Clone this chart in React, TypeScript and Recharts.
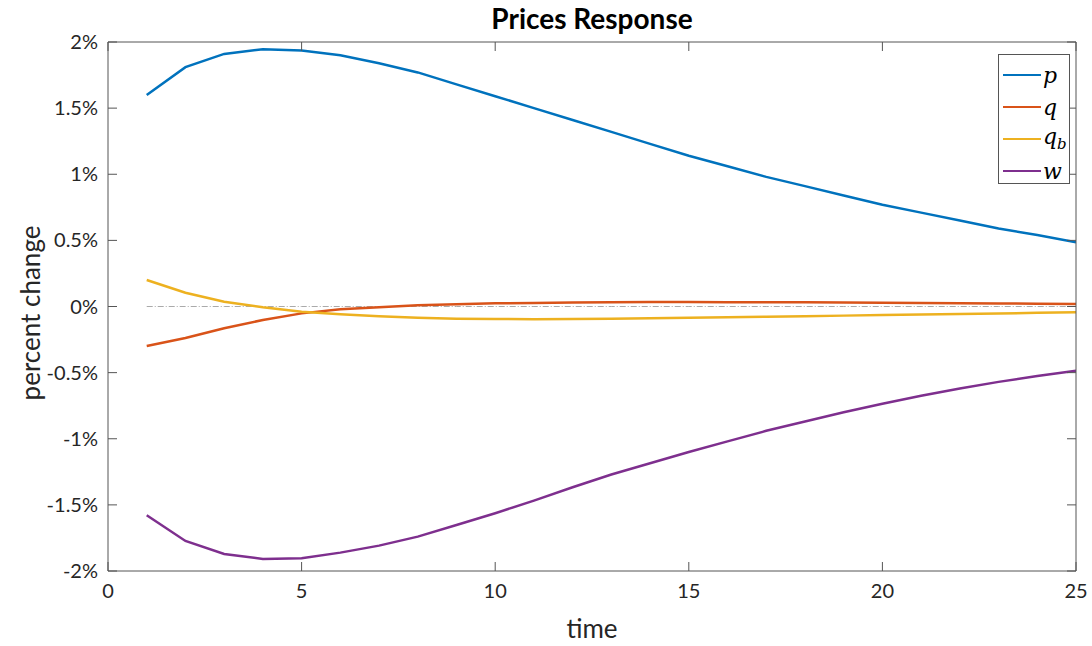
import { LineChart, Line, XAxis, YAxis } from "recharts";

const time = [1, 2, 3, 4, 5, 6, 7, 8, 9, 10, 11, 12, 13, 14, 15, 16, 17, 18, 19, 20, 21, 22, 23, 24, 25];

const pValues = [
  1.6, 1.81, 1.91, 1.945, 1.935, 1.9, 1.84, 1.77, 1.68, 1.59, 1.5, 1.41, 1.32,
  1.23, 1.14, 1.06, 0.98, 0.91, 0.84, 0.77, 0.71, 0.65, 0.59, 0.54, 0.485,
];
const qValues = [
  -0.299, -0.238, -0.165, -0.102, -0.052, -0.021, -0.006, 0.009, 0.017, 0.024,
  0.027, 0.03, 0.032, 0.034, 0.034, 0.033, 0.033, 0.032, 0.03, 0.028, 0.026,
  0.025, 0.023, 0.021, 0.019,
];
const qbValues = [
  0.2, 0.104, 0.036, -0.006, -0.039, -0.059, -0.074, -0.085, -0.092, -0.095,
  -0.096, -0.095, -0.093, -0.089, -0.085, -0.081, -0.077, -0.073, -0.069,
  -0.065, -0.061, -0.057, -0.053, -0.048, -0.044,
];
const wValues = [
  -1.578, -1.773, -1.871, -1.909, -1.904, -1.861, -1.808, -1.74, -1.652,
  -1.563, -1.468, -1.367, -1.27, -1.185, -1.1, -1.02, -0.94, -0.87, -0.8,
  -0.735, -0.675, -0.62, -0.57, -0.525, -0.485,
];

const xTicks = [0, 5, 10, 15, 20, 25];
const yTicks = [-2, -1.5, -1, -0.5, 0, 0.5, 1, 1.5, 2];

const series = [
  { key: "p", label: "p", sub: "", color: "#0072BD" },
  { key: "q", label: "q", sub: "", color: "#D95319" },
  { key: "qb", label: "q", sub: "b", color: "#EDB120" },
  { key: "w", label: "w", sub: "", color: "#7E2F8E" },
];

const data = time.map((t, i) => ({
  time: t,
  p: pValues[i],
  q: qValues[i],
  qb: qbValues[i],
  w: wValues[i],
  zero: 0,
}));

const font = "Lato, 'Open Sans', sans-serif";
const axisColor = "#555";
const tickStyle = { fontSize: 20, fill: "#262626", fontFamily: font };
const noLabel = () => <g />;

export default function App() {
  return (
    <div style={{ position: "absolute", left: 0, top: 0, width: 1092, height: 646, background: "#fff" }}>
      <LineChart
        width={1092}
        height={646}
        data={data}
        margin={{ top: 40, right: 14, bottom: 45, left: 0 }}
      >
        <XAxis
          dataKey="time"
          type="number"
          domain={[0, 25]}
          ticks={xTicks}
          height={30}
          tickSize={-9}
          tickMargin={22}
          stroke={axisColor}
          tick={tickStyle}
          allowDataOverflow
        />
        <XAxis
          xAxisId="top"
          orientation="top"
          dataKey="time"
          type="number"
          domain={[0, 25]}
          ticks={xTicks}
          height={2}
          tickSize={-9}
          tick={noLabel}
          stroke={axisColor}
          allowDataOverflow
        />
        <YAxis
          type="number"
          domain={[-2, 2]}
          ticks={yTicks}
          width={108}
          tickSize={-9}
          tickMargin={19}
          stroke={axisColor}
          tick={tickStyle}
          tickFormatter={(v) => `${v}%`}
          allowDataOverflow
        />
        <YAxis
          yAxisId="right"
          orientation="right"
          type="number"
          domain={[-2, 2]}
          ticks={yTicks}
          width={2}
          tickSize={-9}
          tick={noLabel}
          stroke={axisColor}
          allowDataOverflow
        />
        {/* zero reference line, tied to the top/right axes so the box frame gets drawn */}
        <Line
          xAxisId="top"
          yAxisId="right"
          type="linear"
          dataKey="zero"
          stroke="#aaaaaa"
          strokeWidth={1}
          strokeDasharray="6 2 1 2"
          dot={false}
          activeDot={false}
          isAnimationActive={false}
        />
        {series.map((s) => (
          <Line
            key={s.key}
            type="linear"
            dataKey={s.key}
            stroke={s.color}
            strokeWidth={2.5}
            dot={false}
            activeDot={false}
            isAnimationActive={false}
          />
        ))}
      </LineChart>

      <div
        style={{
          position: "absolute",
          left: 108,
          width: 968,
          top: 1,
          textAlign: "center",
          fontFamily: font,
          fontWeight: 700,
          fontSize: 28,
          color: "#000",
        }}
      >
        Prices Response
      </div>
      <div
        style={{
          position: "absolute",
          left: 108,
          width: 968,
          top: 612,
          textAlign: "center",
          fontFamily: font,
          fontSize: 26,
          color: "#262626",
        }}
      >
        time
      </div>
      <div
        style={{
          position: "absolute",
          left: 30,
          top: 313,
          transform: "translate(-50%, -50%) rotate(-90deg)",
          whiteSpace: "nowrap",
          fontFamily: font,
          fontSize: 26,
          color: "#262626",
        }}
      >
        percent change
      </div>

      <div
        style={{
          position: "absolute",
          left: 998,
          top: 54,
          width: 72,
          height: 130,
          border: "1px solid #555",
          background: "#fff",
          boxSizing: "border-box",
          padding: "4px 0 0 4px",
        }}
      >
        {series.map((s) => (
          <div key={s.key} style={{ display: "flex", alignItems: "center", height: 32 }}>
            <div style={{ width: 38, height: 2.5, background: s.color }} />
            <span
              style={{
                marginLeft: 2,
                fontFamily: "'DejaVu Serif', 'Liberation Serif', serif",
                fontStyle: "italic",
                fontSize: 22,
                color: "#000",
              }}
            >
              {s.label}
              {s.sub && <sub style={{ fontSize: 15 }}>{s.sub}</sub>}
            </span>
          </div>
        ))}
      </div>
    </div>
  );
}
